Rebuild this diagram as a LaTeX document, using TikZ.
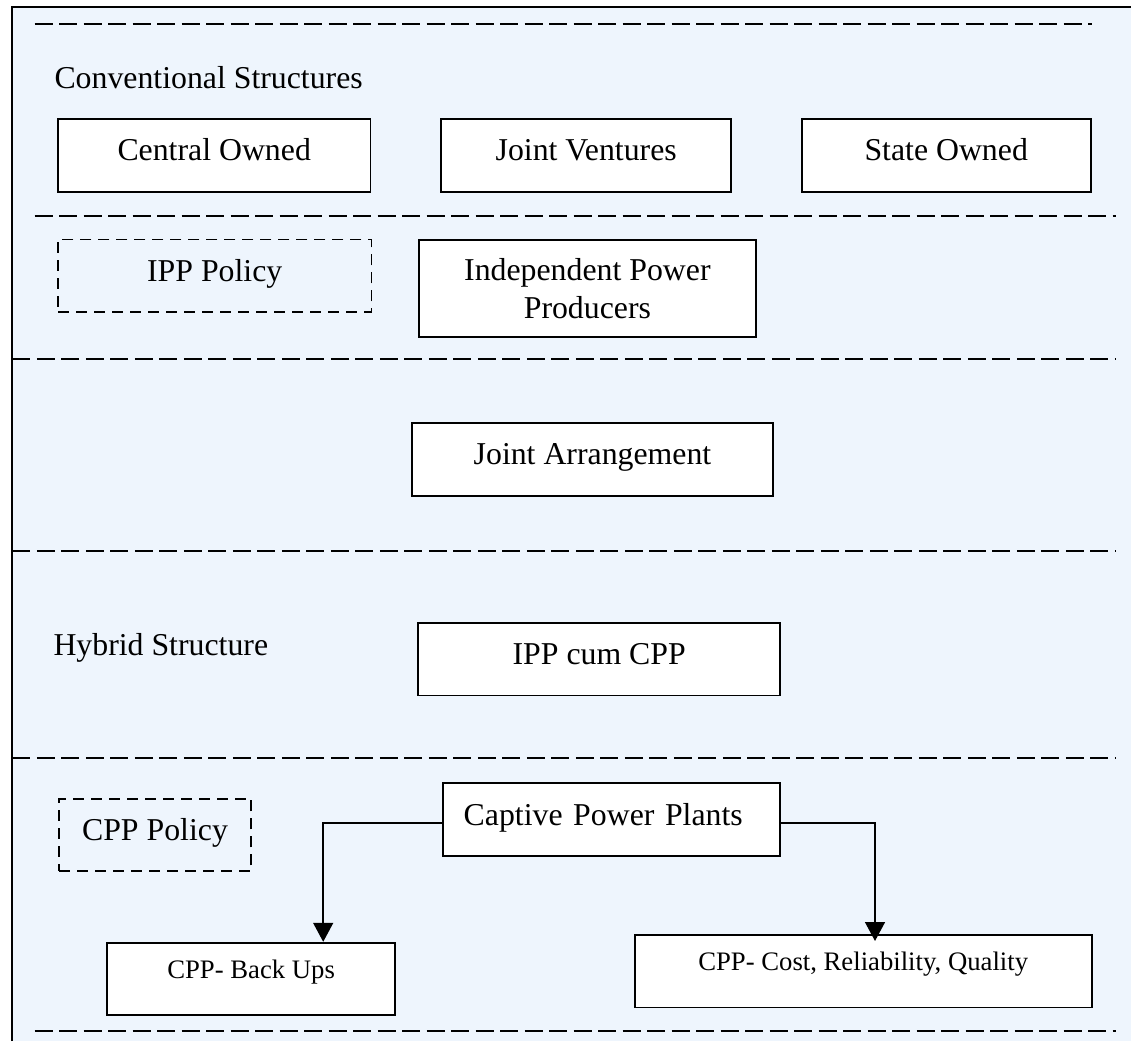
\documentclass[tikz,border=0pt]{standalone}
\usepackage{fontspec}
\setmainfont{Liberation Serif}
\usetikzlibrary{arrows.meta}
\definecolor{bgblue}{RGB}{238,245,253}
\begin{document}
\begin{tikzpicture}[x=1pt,y=-1pt]
	\tikzstyle{BX0}=[draw=black,fill=white,line width=1.9pt,inner sep=0pt,minimum height=72.5pt,font=\fontsize{31.8}{38.2}\selectfont]
	\tikzstyle{BX}=[BX0,text height=22pt,text depth=11pt]
	\tikzstyle{SB}=[BX,font=\fontsize{26.7}{32}\selectfont,text height=18pt,text depth=20pt]
	\tikzstyle{PB}=[BX,fill=none,line width=1.6pt,dash pattern=on 11pt off 7pt]
	\tikzstyle{SEP}=[line width=1.7pt,dash pattern=on 18pt off 6.5pt]
	\tikzstyle{LB}=[anchor=base west,inner sep=0pt,font=\fontsize{31.8}{38.2}\selectfont]
	\tikzstyle{AR}=[line width=1.5pt,-{Triangle[length=19pt,width=20pt]}]
	\useasboundingbox (0,0) rectangle (1131,1041);
	\fill[bgblue] (12.3,7.3) rectangle (1131,1041);
	\draw[line width=1.9pt] (12.3,1041) -- (12.3,7.3) -- (1131,7.3);
	
	\draw[SEP] (34.6,24) -- (1091.7,24);
	\draw[SEP] (34.6,215.7) -- (1115.7,215.7);
	\draw[SEP] (12.3,359.3) -- (1115.7,359.3);
	\draw[SEP] (12.3,551) -- (1115.7,551);
	\draw[SEP] (12.3,758.2) -- (1115.7,758.2);
	\draw[SEP] (34.6,1030.7) -- (1115.7,1030.7);
	
	\begin{scope}
	\node[LB] (conv) at (54.3,88.3) {Conventional Structures};
	\node[BX,minimum width=312.5pt] (cown) at (214.2,155.4) {Central Owned};
	\node[BX,minimum width=289.7pt] (jven) at (586.2,155.4) {Joint Ventures};
	\node[BX,minimum width=289pt] (sown) at (946.2,155.4) {State Owned};
	\node[PB,minimum width=313.4pt] (ipol) at (214.7,275.7) {IPP Policy};
	\node[BX0,minimum width=337.3pt,minimum height=96.7pt,align=center] (ipp) at (587.4,288.3) {Independent Power\\Producers};
	\node[BX,minimum width=361.6pt,minimum height=73pt] (jarr) at (592.5,459.2) {Joint Arrangement};
	\node[LB] (hyb) at (53.3,655) {Hybrid Structure};
	\node[BX,minimum width=361.7pt] (ippcpp) at (599.2,659.2) {IPP cum CPP};
	\node[PB,minimum width=192pt] (cpol) at (155,835) {CPP Policy};
	\node[BX,minimum width=337pt,text width=295pt,align=left] (cpp) at (611.2,819.5) {Captive Power Plants};
	\node[SB,minimum width=288.6pt] (bup) at (251.1,979) {CPP- Back Ups};
	\node[SB,minimum width=457pt] (cost) at (863.2,971.2) {CPP- Cost, Reliability, Quality};
	\end{scope}
	
	\coordinate (lk) at (323.2,822.8);
	\coordinate (rk) at (875,822.8);
	\draw[AR] (cpp.west |- lk) -- (lk) -- (lk |- bup.north);
	\draw[AR,shorten >=-7pt] (cpp.east |- rk) -- (rk) -- (rk |- cost.north);
\end{tikzpicture}
\end{document}
